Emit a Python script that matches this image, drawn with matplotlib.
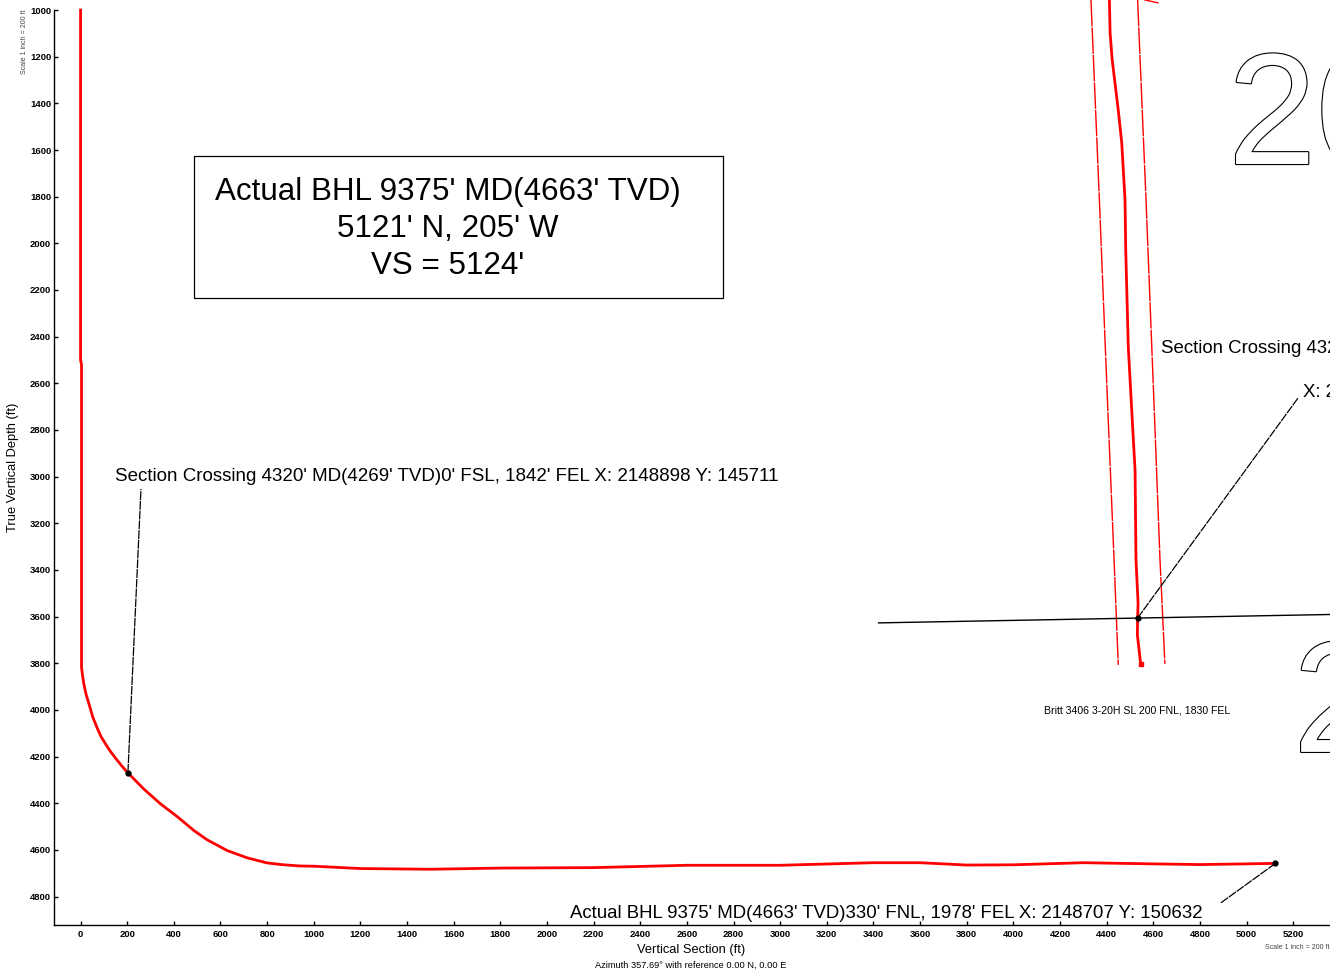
import matplotlib
matplotlib.use("Agg")
import matplotlib.pyplot as plt
import matplotlib.patheffects as pe
from matplotlib.patches import Rectangle

plt.rcParams['font.family'] = ['Liberation Sans', 'DejaVu Sans']

# Section view, actual wellbore (vertical section ft, TVD ft)
vs = [0, 0, 4, 4, 8, 14, 24, 36, 52, 71, 88, 107, 128, 150, 175, 200, 271, 343, 414, 486, 543, 629, 714, 800, 871, 943,
      1000, 1200, 1500, 1800, 2200, 2600, 3000, 3400, 3600, 3800, 4000, 4300, 4600, 4800, 5124]
tvd = [1000, 2500, 2520, 3817, 3850, 3889, 3935, 3974, 4030, 4077, 4115, 4146, 4178, 4207, 4238, 4267, 4339, 4403, 4457, 4517, 4557, 4603, 4634, 4656, 4664, 4669,
       4670, 4680, 4683, 4678, 4676, 4666, 4666, 4655, 4655, 4665, 4664, 4655, 4660, 4663, 4658]

# Plan view drawn on the same scale
plan_x = [4412, 4415, 4424, 4450, 4465, 4479, 4482, 4493, 4510, 4522, 4526, 4535, 4533, 4532, 4546]
plan_y = [957, 1099, 1214, 1429, 1570, 1814, 2029, 2444, 2757, 2972, 3357, 3542, 3606, 3679, 3803]
hard_left_x = [4333, 4369, 4407, 4432, 4450]
hard_left_y = [957, 1814, 2757, 3357, 3807]
hard_right_x = [4533, 4569, 4606, 4629, 4650]
hard_right_y = [957, 1814, 2757, 3357, 3803]
stub_x = [4565, 4620]
stub_y = [957, 969]
section_x = [3422, 5358]
section_y = [3627, 3591]

# Leaders from the labels to their survey points
leader1_x = [203, 259]
leader1_y = [4269, 3053]
leader2_x = [5124, 4890]
leader2_y = [4658, 4827]
leader3_x = [4533, 5221]
leader3_y = [3606, 2663]

# Ticks
x_ticks = list(range(0, 5201, 200))
y_ticks = list(range(1000, 4801, 200))

fig = plt.figure(figsize=(13.3, 9.72), dpi=100)
ax = fig.add_axes([54 / 1330, 1 - 925 / 972, 1 - 54 / 1330, 925 / 972])
ax.set_xlim(-114, 5358)
ax.set_ylim(4922, 957)

ax.plot(vs, tvd, color='red', lw=2, zorder=3, solid_joinstyle='round')
ax.plot(plan_x, plan_y, color='red', lw=2, zorder=3)
ax.plot(plan_x[-1:], plan_y[-1:], 's', color='red', ms=2.5, zorder=3)
ax.plot(hard_left_x, hard_left_y, color='red', lw=1, ls=(0, (19, 0.8)))
ax.plot(hard_right_x, hard_right_y, color='red', lw=1, ls=(0, (19, 0.8)))
ax.plot(stub_x, stub_y, color='red', lw=1)
ax.plot(section_x, section_y, color='black', lw=1)

for lx, ly in [(leader1_x, leader1_y), (leader2_x, leader2_y), (leader3_x, leader3_y)]:
    ax.plot(lx, ly, color='black', lw=0.9, ls=(0, (7, 0.8)), zorder=2)
    ax.plot(lx[0], ly[0], 'o', color='black', ms=3.5, zorder=4)

# title box
ax.add_patch(Rectangle((487, 1626), 2270, 608, fill=False, ec='black', lw=0.9))
ax.text(1576, 1781, "Actual BHL 9375' MD(4663' TVD)", fontsize=22.6, ha='center', va='center')
ax.text(1576, 1939, "5121' N, 205' W", fontsize=22.6, ha='center', va='center')
ax.text(1576, 2098, "VS = 5124'", fontsize=22.6, ha='center', va='center')

ax.text(148, 2998, "Section Crossing 4320' MD(4269' TVD)0' FSL, 1842' FEL X: 2148898 Y: 145711",
        fontsize=13.5, va='center')
ax.text(2099, 4871, "Actual BHL 9375' MD(4663' TVD)330' FNL, 1978' FEL X: 2148707 Y: 150632",
        fontsize=13.4, va='center')
ax.text(4633, 2449, "Section Crossing 4320' MD(4269' TVD)", fontsize=13.4, va='center')
ax.text(5242, 2638, "X: 2148898 Y: 145711", fontsize=13.4, va='center')
ax.text(4133, 4002, "Britt 3406 3-20H SL 200 FNL, 1830 FEL", fontsize=7.55, va='center')

# outlined section numbers
outline = [pe.Stroke(linewidth=1.6, foreground='black'), pe.Normal()]
ax.text(4921, 1660, "20", fontsize=114, color='white', va='baseline', path_effects=outline, zorder=1)
ax.text(5200, 4180, "29", fontsize=114, color='white', va='baseline', path_effects=outline, zorder=1)

ax.spines['top'].set_visible(False)
ax.spines['right'].set_visible(False)
ax.spines['left'].set_bounds(1000, 4922)
ax.spines['left'].set_linewidth(1)
ax.spines['bottom'].set_linewidth(1)
ax.set_xticks(x_ticks)
ax.set_yticks(y_ticks)
ax.tick_params(axis='x', direction='in', length=3, width=1, pad=3.5)
ax.tick_params(axis='y', direction='in', length=3, width=1, pad=2)
for lab in ax.get_xticklabels() + ax.get_yticklabels():
    lab.set_fontsize(6.8)
    lab.set_fontweight('bold')

fig.text(13 / 1330, 1 - 467 / 972, "True Vertical Depth (ft)", rotation=90, fontsize=9.25, ha='center', va='center')
fig.text(691 / 1330, 1 - 950 / 972, "Vertical Section (ft)", fontsize=9.25, ha='center', va='center')
fig.text(691 / 1330, 1 - 965 / 972, "Azimuth 357.69° with reference 0.00 N, 0.00 E", fontsize=6.7, ha='center', va='center')
fig.text(24 / 1330, 1 - 42 / 972, "Scale 1 inch = 200 ft", rotation=90, fontsize=5, color='#444444', ha='center', va='center')
fig.text(1297 / 1330, 1 - 947 / 972, "Scale 1 inch = 200 ft", fontsize=5, color='#444444', ha='center', va='center')

fig.savefig("out.png", dpi=100)
